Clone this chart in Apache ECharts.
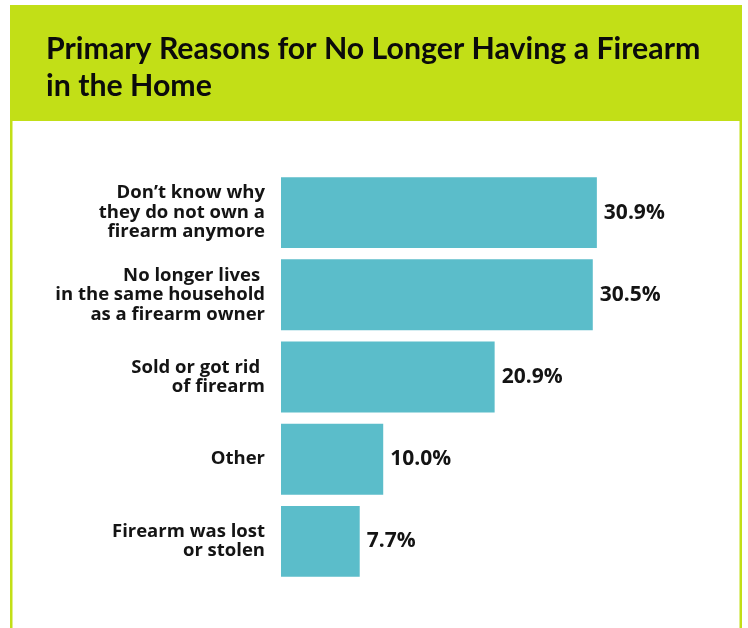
<!DOCTYPE html>
<html>
<head>
<meta charset="utf-8">
<script src="https://cdn.jsdelivr.net/npm/echarts@6/dist/echarts.min.js"></script>
<style>
  html, body { margin: 0; padding: 0; background: #ffffff; }
  #chart { width: 748px; height: 628px; }
</style>
</head>
<body>
<div id="chart"></div>
<script>
// Reasons, top to bottom as drawn
const categories = [
  'Don\u2019t know why\nthey do not own a\nfirearm anymore',
  'No longer lives \nin the same household\nas a firearm owner',
  'Sold or got rid \nof firearm',
  'Other',
  'Firearm was lost\nor stolen'
];
// Share of respondents (%)
const shares = [30.9, 30.5, 20.9, 10.0, 7.7];

const titleText = 'Primary Reasons for No Longer Having a Firearm\nin the Home';

const GREEN = '#c2df17';
const TEAL = '#5bbdca';
const INK = '#141414';

const chart = echarts.init(document.getElementById('chart'));

chart.setOption({
  backgroundColor: '#ffffff',
  animation: false,
  graphic: [
    // header band
    { type: 'rect', z: -1, shape: { x: 10, y: 5, width: 732, height: 116 }, style: { fill: GREEN } },
    // side rules of the panel
    { type: 'rect', z: -1, shape: { x: 10, y: 121, width: 2.5, height: 507 }, style: { fill: GREEN } },
    { type: 'rect', z: -1, shape: { x: 739.5, y: 121, width: 2.5, height: 507 }, style: { fill: GREEN } },
    {
      type: 'text', left: 46, top: 31, z: 5,
      style: {
        text: titleText,
        font: 'bold 30.3px Lato',
        lineHeight: 37,
        fill: '#0b0b0b'
      }
    }
  ],
  grid: { left: 281, top: 171.5, height: 411, width: 460, containLabel: false },
  xAxis: {
    type: 'value', min: 0, max: 45,
    show: false
  },
  yAxis: {
    type: 'category',
    data: categories,
    inverse: true,
    axisLine: { show: false },
    axisTick: { show: false },
    axisLabel: {
      margin: 16,
      align: 'right',
      color: INK,
      fontFamily: 'Open Sans',
      fontWeight: 'bold',
      fontSize: 18.5,
      lineHeight: 19.5
    }
  },
  series: [{
    type: 'bar',
    data: shares,
    barCategoryGap: '13.7%',
    itemStyle: { color: TEAL },
    label: {
      show: true,
      position: 'right',
      distance: 7,
      color: INK,
      fontFamily: 'Open Sans',
      fontWeight: 'bold',
      fontSize: 21,
      formatter: p => p.value.toFixed(1) + '%'
    }
  }]
});
</script>
</body>
</html>
